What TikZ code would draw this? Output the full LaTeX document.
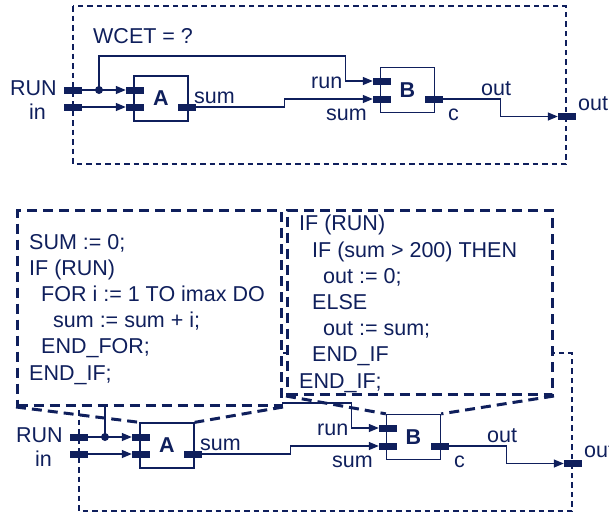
\documentclass[tikz,border=0pt]{standalone}
\usepackage{fontspec}
\setmainfont{Liberation Sans}
\usetikzlibrary{arrows.meta, positioning}
\definecolor{plcnavy}{HTML}{0F1F5C}

\begin{document}
\begin{tikzpicture}[
  x=1pt, y=-1pt,
  every node/.style={font=\fontsize{21.5}{26.2}\selectfont, text=plcnavy},
  port/.style={fill=plcnavy, minimum width=18pt, minimum height=7pt, inner sep=0pt},
  blk/.style={draw=plcnavy, line width=1.3pt, minimum width=54pt, minimum height=45pt,
              inner sep=0pt, font=\fontsize{21.5}{26.2}\selectfont\bfseries},
  dot/.style={circle, fill=plcnavy, minimum size=8pt, inner sep=0pt},
  lbl/.style={anchor=base west, inner sep=0pt},
  wire/.style={draw=plcnavy, line width=1.3pt},
  arr/.style={wire, -{Triangle[length=10pt, width=8pt]}},
  frame/.style={draw=plcnavy, line width=1.3pt, dash pattern=on 5.5pt off 4pt},
  callout/.style={draw=plcnavy, line width=3pt, dash pattern=on 10pt off 6pt,
                  fill=white, anchor=north west, inner sep=0pt},
  zoomline/.style={draw=plcnavy, line width=3pt, dash pattern=on 10pt off 6pt},
  code/.style={lbl, align=left}
]
\useasboundingbox (0,0) rectangle (609,515);

%% the same network twice: plain (top) and with code (bottom)
\foreach \p/\sx/\sy in {t/0/0, b/6/347}{
\begin{scope}[shift={(\sx,\sy)}]
  \draw[frame] (73,6) rectangle (566,164);

  % blocks
  \node[blk] (\p A) at (161,98.5) {A};
  \node[blk] (\p B) at (407.5,90) {B};

  % ports
  \node[port] (\p run)  at (73,90)    {};
  \node[port] (\p in)   at (73,107)   {};
  \node[port] (\p out)  at (567,116.5) {};
  \node[port] (\p Arun) at (135,90)   {};
  \node[port] (\p Ain)  at (135,107)  {};
  \node[port] (\p Aout) at (187,107)  {};
  \node[port] (\p Brun) at (382,81)   {};
  \node[port] (\p Bsum) at (382,99)   {};
  \node[port] (\p Bc)   at (434,99)   {};
  \node[dot]  (\p fork) at (99,90)    {};

  % labels
  \node[lbl] (\p RUNl)  at (10,95)  {RUN};
  \node[lbl] (\p inl)   at (29,119) {in};
  \node[lbl] (\p suml)  at (194,103) {sum};
  \node[lbl] (\p runl)  at (311,88) {run};
  \node[lbl] (\p sumBl) at (326,120) {sum};
  \node[lbl] (\p cl)    at (448,120) {c};
  \node[lbl] (\p outBl) at (481,95) {out};
  \node[lbl] (\p outl)  at (578,110) {out};

  % wires
  \draw[arr] (\p run.east) -- (\p Arun.west);
  \draw[arr] (\p in.east) -- (\p Ain.west);
  \draw[arr] (\p fork.center) -- ++(0,-34) -| ([xshift=-27pt]\p Brun.west)
    -- (\p Brun.west);
  \draw[arr] (\p Aout.east) -- ++(88,0) |- (\p Bsum.west);
  \draw[arr] (\p Bc.east) -- ++(57,0) |- (\p out.west);
\end{scope}
}

\node[lbl] (wcet) at (93,43) {WCET = ?};

%% code of the two blocks
\node[callout, minimum width=264pt, minimum height=195pt] (codeA) at (16,209) {};
\node[callout, minimum width=265pt, minimum height=184pt] (codeB) at (286,209) {};

\draw[zoomline] (codeA.south west) -- (bA.north west);
\draw[zoomline] (codeA.south east) -- (bA.north east);
\draw[zoomline] (codeB.south west) -- (bB.north west);
\draw[zoomline] (codeB.south east) -- (bB.north east);

% base of a multi-line node = last line
\node[code] (codeAtxt) at (29,380) {SUM := 0;\\
  IF (RUN)\\
  \hspace*{12pt}FOR i := 1 TO imax DO\\
  \hspace*{24pt}sum := sum + i;\\
  \hspace*{12pt}END\_FOR;\\
  END\_IF;};
\node[code] (codeBtxt) at (299,388) {IF (RUN)\\
  \hspace*{13pt}IF (sum > 200) THEN\\
  \hspace*{24pt}out := 0;\\
  \hspace*{13pt}ELSE\\
  \hspace*{24pt}out := sum;\\
  \hspace*{13pt}END\_IF\\
  END\_IF;};

\end{tikzpicture}
\end{document}
